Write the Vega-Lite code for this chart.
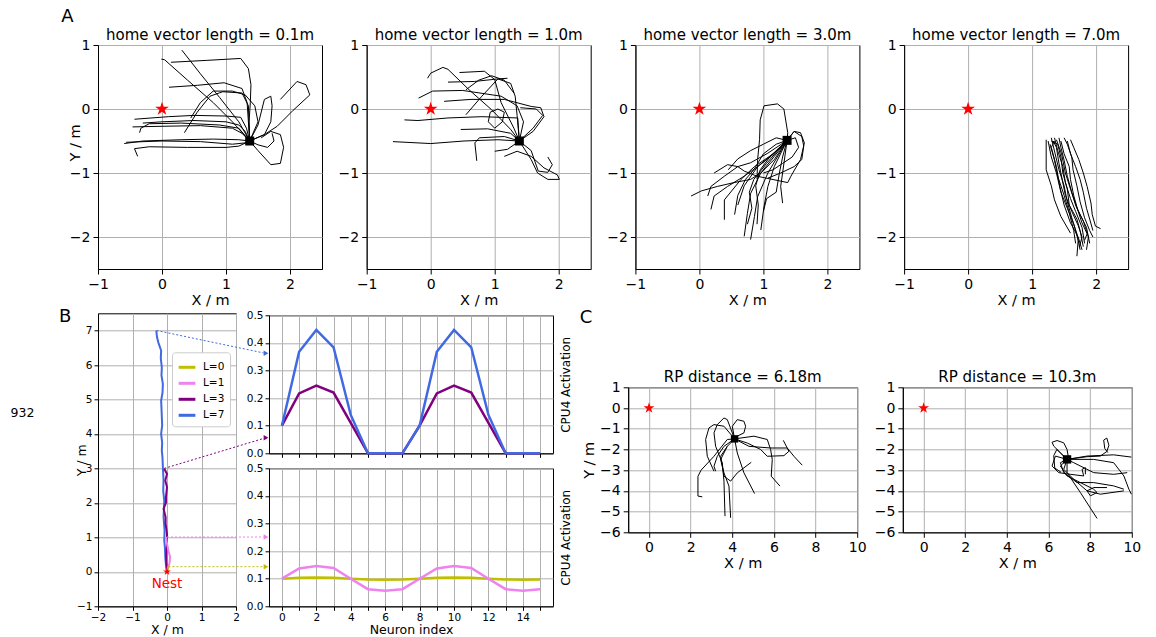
{
"$schema":"https://vega.github.io/schema/vega-lite/v6.json",
"background":"white",
"padding":{"left":10,"top":7,"right":5,"bottom":5},
"config":{
 "font":"DejaVu Sans",
 "view":{"stroke":"black","strokeWidth":1},
 "axis":{"labelFont":"DejaVu Sans","titleFont":"DejaVu Sans","titleFontWeight":"normal","domainColor":"black","tickColor":"black","labelColor":"black","titleColor":"black","gridColor":"#b0b0b0","gridWidth":1,"gridOpacity":1,"labelFlush":false,"labelOverlap":false,"grid":true},
 "title":{"font":"DejaVu Sans","fontSize":15,"fontWeight":"normal","color":"black","offset":-4.5},
 "legend":{"labelFont":"DejaVu Sans"}
},
"datasets":{
"A1":[
{"t":1,"i":0,"x":0.31,"y":0.92},{"t":1,"i":1,"x":0.6,"y":0.55},{"t":1,"i":2,"x":0.9,"y":0.18},{"t":1,"i":3,"x":1.2,"y":-0.2},{"t":1,"i":4,"x":1.37,"y":-0.5},
{"t":2,"i":0,"x":-0.01,"y":0.78},{"t":2,"i":1,"x":0.04,"y":0.77},{"t":2,"i":2,"x":0.4,"y":0.45},{"t":2,"i":3,"x":0.8,"y":0.1},{"t":2,"i":4,"x":1.1,"y":-0.2},{"t":2,"i":5,"x":1.37,"y":-0.5},
{"t":3,"i":0,"x":0.14,"y":0.73},{"t":3,"i":1,"x":0.7,"y":0.76},{"t":3,"i":2,"x":1.23,"y":0.79},{"t":3,"i":3,"x":1.35,"y":0.63},{"t":3,"i":4,"x":1.39,"y":0.38},{"t":3,"i":5,"x":1.38,"y":0.1},{"t":3,"i":6,"x":1.36,"y":-0.2},{"t":3,"i":7,"x":1.37,"y":-0.5},
{"t":4,"i":0,"x":1.85,"y":0.15},{"t":4,"i":1,"x":2.11,"y":0.43},{"t":4,"i":2,"x":2.25,"y":0.38},{"t":4,"i":3,"x":2.31,"y":0.22},{"t":4,"i":4,"x":2.05,"y":-0.02},{"t":4,"i":5,"x":1.8,"y":-0.27},{"t":4,"i":6,"x":1.6,"y":-0.4},{"t":4,"i":7,"x":1.37,"y":-0.5},
{"t":5,"i":0,"x":0.11,"y":0.34},{"t":5,"i":1,"x":0.55,"y":0.37},{"t":5,"i":2,"x":0.97,"y":0.41},{"t":5,"i":3,"x":1.25,"y":0.32},{"t":5,"i":4,"x":1.33,"y":0.1},{"t":5,"i":5,"x":1.35,"y":-0.2},{"t":5,"i":6,"x":1.37,"y":-0.5},
{"t":6,"i":0,"x":0.45,"y":-0.14},{"t":6,"i":1,"x":0.6,"y":0.1},{"t":6,"i":2,"x":0.8,"y":0.28},{"t":6,"i":3,"x":1.1,"y":0.28},{"t":6,"i":4,"x":1.3,"y":0.22},{"t":6,"i":5,"x":1.45,"y":0.05},{"t":6,"i":6,"x":1.5,"y":-0.2},{"t":6,"i":7,"x":1.37,"y":-0.5},
{"t":7,"i":0,"x":0.35,"y":-0.37},{"t":7,"i":1,"x":0.55,"y":-0.05},{"t":7,"i":2,"x":0.75,"y":0.2},{"t":7,"i":3,"x":0.95,"y":0.27},{"t":7,"i":4,"x":1.25,"y":0.25},{"t":7,"i":5,"x":1.35,"y":0.05},{"t":7,"i":6,"x":1.37,"y":-0.5},
{"t":8,"i":0,"x":1.37,"y":-0.5},{"t":8,"i":1,"x":1.5,"y":-0.25},{"t":8,"i":2,"x":1.6,"y":0.15},{"t":8,"i":3,"x":1.7,"y":0.2},{"t":8,"i":4,"x":1.72,"y":0.05},{"t":8,"i":5,"x":1.7,"y":-0.2},{"t":8,"i":6,"x":1.6,"y":-0.4},{"t":8,"i":7,"x":1.37,"y":-0.5},
{"t":9,"i":0,"x":1.37,"y":-0.5},{"t":9,"i":1,"x":1.5,"y":-0.65},{"t":9,"i":2,"x":1.7,"y":-0.87},{"t":9,"i":3,"x":1.85,"y":-0.85},{"t":9,"i":4,"x":1.9,"y":-0.6},{"t":9,"i":5,"x":1.85,"y":-0.4},{"t":9,"i":6,"x":1.7,"y":-0.35},{"t":9,"i":7,"x":1.55,"y":-0.45},
{"t":10,"i":0,"x":-0.43,"y":-0.16},{"t":10,"i":1,"x":0.1,"y":-0.12},{"t":10,"i":2,"x":0.5,"y":-0.1},{"t":10,"i":3,"x":1.0,"y":-0.11},{"t":10,"i":4,"x":1.23,"y":-0.13},{"t":10,"i":5,"x":1.32,"y":-0.3},{"t":10,"i":6,"x":1.37,"y":-0.5},
{"t":11,"i":0,"x":-0.3,"y":-0.22},{"t":11,"i":1,"x":0.0,"y":-0.2},{"t":11,"i":2,"x":0.5,"y":-0.18},{"t":11,"i":3,"x":1.0,"y":-0.2},{"t":11,"i":4,"x":1.2,"y":-0.25},{"t":11,"i":5,"x":1.3,"y":-0.35},{"t":11,"i":6,"x":1.37,"y":-0.5},
{"t":12,"i":0,"x":-0.46,"y":-0.28},{"t":12,"i":1,"x":0.0,"y":-0.27},{"t":12,"i":2,"x":0.6,"y":-0.26},{"t":12,"i":3,"x":1.1,"y":-0.3},{"t":12,"i":4,"x":1.25,"y":-0.38},{"t":12,"i":5,"x":1.37,"y":-0.5},
{"t":13,"i":0,"x":-0.35,"y":-0.37},{"t":13,"i":1,"x":-0.33,"y":-0.3},{"t":13,"i":2,"x":-0.2,"y":-0.23},{"t":13,"i":3,"x":0.3,"y":-0.22},{"t":13,"i":4,"x":0.9,"y":-0.25},{"t":13,"i":5,"x":1.2,"y":-0.3},{"t":13,"i":6,"x":1.37,"y":-0.5},
{"t":14,"i":0,"x":-0.59,"y":-0.54},{"t":14,"i":1,"x":-0.3,"y":-0.5},{"t":14,"i":2,"x":0.3,"y":-0.48},{"t":14,"i":3,"x":0.8,"y":-0.47},{"t":14,"i":4,"x":1.2,"y":-0.48},{"t":14,"i":5,"x":1.37,"y":-0.5},
{"t":15,"i":0,"x":-0.56,"y":-0.52},{"t":15,"i":1,"x":0.0,"y":-0.5},{"t":15,"i":2,"x":0.6,"y":-0.51},{"t":15,"i":3,"x":1.1,"y":-0.55},{"t":15,"i":4,"x":1.3,"y":-0.53},{"t":15,"i":5,"x":1.37,"y":-0.5},
{"t":16,"i":0,"x":-0.38,"y":-0.74},{"t":16,"i":1,"x":-0.43,"y":-0.62},{"t":16,"i":2,"x":-0.2,"y":-0.59},{"t":16,"i":3,"x":0.4,"y":-0.6},{"t":16,"i":4,"x":1.0,"y":-0.6},{"t":16,"i":5,"x":1.2,"y":-0.58},{"t":16,"i":6,"x":1.37,"y":-0.5},
{"t":17,"i":0,"x":1.37,"y":-0.5},{"t":17,"i":1,"x":1.5,"y":-0.56},{"t":17,"i":2,"x":1.65,"y":-0.6},{"t":17,"i":3,"x":1.75,"y":-0.5},{"t":17,"i":4,"x":1.72,"y":-0.38}
],
"A2":[
{"t":1,"i":0,"x":-0.05,"y":0.48},{"t":1,"i":1,"x":0.0,"y":0.56},{"t":1,"i":2,"x":0.19,"y":0.65},{"t":1,"i":3,"x":0.27,"y":0.62},{"t":1,"i":4,"x":0.6,"y":0.3},{"t":1,"i":5,"x":0.95,"y":-0.01},{"t":1,"i":6,"x":1.25,"y":-0.32},{"t":1,"i":7,"x":1.385,"y":-0.5},
{"t":2,"i":0,"x":0.45,"y":0.57},{"t":2,"i":1,"x":0.84,"y":0.59},{"t":2,"i":2,"x":1.0,"y":0.46},{"t":2,"i":3,"x":1.1,"y":0.1},{"t":2,"i":4,"x":1.3,"y":-0.3},{"t":2,"i":5,"x":1.385,"y":-0.5},
{"t":3,"i":0,"x":0.27,"y":0.42},{"t":3,"i":1,"x":0.68,"y":0.43},{"t":3,"i":2,"x":1.05,"y":0.47},{"t":3,"i":3,"x":1.25,"y":0.4},{"t":3,"i":4,"x":1.32,"y":0.2},{"t":3,"i":5,"x":1.35,"y":-0.1},{"t":3,"i":6,"x":1.385,"y":-0.5},
{"t":4,"i":0,"x":-0.19,"y":0.17},{"t":4,"i":1,"x":0.03,"y":0.28},{"t":4,"i":2,"x":0.5,"y":0.29},{"t":4,"i":3,"x":1.1,"y":0.2},{"t":4,"i":4,"x":1.35,"y":0.05},{"t":4,"i":5,"x":1.45,"y":-0.2},{"t":4,"i":6,"x":1.385,"y":-0.5},
{"t":5,"i":0,"x":0.21,"y":0.12},{"t":5,"i":1,"x":0.63,"y":0.15},{"t":5,"i":2,"x":1.15,"y":0.15},{"t":5,"i":3,"x":1.57,"y":0.04},{"t":5,"i":4,"x":1.72,"y":0.02},{"t":5,"i":5,"x":1.77,"y":-0.12},{"t":5,"i":6,"x":1.6,"y":-0.35},{"t":5,"i":7,"x":1.385,"y":-0.5},
{"t":6,"i":0,"x":-0.41,"y":-0.17},{"t":6,"i":1,"x":-0.2,"y":-0.18},{"t":6,"i":2,"x":0.27,"y":-0.14},{"t":6,"i":3,"x":0.8,"y":-0.12},{"t":6,"i":4,"x":1.36,"y":-0.14},{"t":6,"i":5,"x":1.385,"y":-0.5},
{"t":7,"i":0,"x":-0.59,"y":-0.51},{"t":7,"i":1,"x":0.0,"y":-0.54},{"t":7,"i":2,"x":0.52,"y":-0.5},{"t":7,"i":3,"x":1.05,"y":-0.48},{"t":7,"i":4,"x":1.385,"y":-0.5},
{"t":8,"i":0,"x":0.47,"y":-0.32},{"t":8,"i":1,"x":0.89,"y":-0.31},{"t":8,"i":2,"x":1.25,"y":-0.38},{"t":8,"i":3,"x":1.385,"y":-0.5},
{"t":9,"i":0,"x":0.72,"y":-0.81},{"t":9,"i":1,"x":0.69,"y":-0.53},{"t":9,"i":2,"x":0.76,"y":-0.45},{"t":9,"i":3,"x":1.15,"y":-0.43},{"t":9,"i":4,"x":1.385,"y":-0.5},
{"t":10,"i":0,"x":0.55,"y":-0.09},{"t":10,"i":1,"x":0.8,"y":0.2},{"t":10,"i":2,"x":1.05,"y":0.47},{"t":10,"i":3,"x":1.2,"y":0.48},
{"t":11,"i":0,"x":1.385,"y":-0.5},{"t":11,"i":1,"x":1.57,"y":-0.65},{"t":11,"i":2,"x":1.68,"y":-0.97},{"t":11,"i":3,"x":1.83,"y":-0.99},{"t":11,"i":4,"x":1.9,"y":-0.87},{"t":11,"i":5,"x":1.83,"y":-0.75},
{"t":12,"i":0,"x":1.15,"y":-0.74},{"t":12,"i":1,"x":1.35,"y":-0.66},{"t":12,"i":2,"x":1.57,"y":-0.74},{"t":12,"i":3,"x":1.77,"y":-0.92},{"t":12,"i":4,"x":1.98,"y":-1.03},{"t":12,"i":5,"x":2.01,"y":-1.1},{"t":12,"i":6,"x":1.83,"y":-1.1},{"t":12,"i":7,"x":1.67,"y":-1.0},{"t":12,"i":8,"x":1.57,"y":-0.79},{"t":12,"i":9,"x":1.385,"y":-0.5},
{"t":13,"i":0,"x":1.0,"y":-0.66},{"t":13,"i":1,"x":1.2,"y":-0.63},{"t":13,"i":2,"x":1.385,"y":-0.5},
{"t":14,"i":0,"x":0.9,"y":-0.2},{"t":14,"i":1,"x":0.93,"y":-0.05},{"t":14,"i":2,"x":1.05,"y":0.0},{"t":14,"i":3,"x":1.15,"y":-0.05},{"t":14,"i":4,"x":1.12,"y":-0.2},{"t":14,"i":5,"x":1.0,"y":-0.3},{"t":14,"i":6,"x":0.9,"y":-0.2},
{"t":15,"i":0,"x":1.385,"y":-0.5},{"t":15,"i":1,"x":1.6,"y":-0.3},{"t":15,"i":2,"x":1.75,"y":-0.1},{"t":15,"i":3,"x":1.65,"y":0.0},{"t":15,"i":4,"x":1.4,"y":0.02},
{"t":16,"i":0,"x":0.55,"y":0.3},{"t":16,"i":1,"x":0.75,"y":0.45},{"t":16,"i":2,"x":0.95,"y":0.52},{"t":16,"i":3,"x":1.15,"y":0.45},{"t":16,"i":4,"x":1.3,"y":0.25}
],
"A3":[
{"t":1,"i":0,"x":-0.13,"y":-1.36},{"t":1,"i":1,"x":0.03,"y":-1.28},{"t":1,"i":2,"x":0.28,"y":-1.21},{"t":1,"i":3,"x":0.54,"y":-1.15},{"t":1,"i":4,"x":0.8,"y":-1.1},{"t":1,"i":5,"x":0.96,"y":-1.0},{"t":1,"i":6,"x":1.17,"y":-0.79},{"t":1,"i":7,"x":1.37,"y":-0.49},
{"t":2,"i":0,"x":0.13,"y":-1.36},{"t":2,"i":1,"x":0.18,"y":-1.21},{"t":2,"i":2,"x":0.39,"y":-1.05},{"t":2,"i":3,"x":0.6,"y":-0.9},{"t":2,"i":4,"x":0.8,"y":-0.84},{"t":2,"i":5,"x":1.07,"y":-0.69},{"t":2,"i":6,"x":1.37,"y":-0.49},
{"t":3,"i":0,"x":0.18,"y":-1.57},{"t":3,"i":1,"x":0.23,"y":-1.36},{"t":3,"i":2,"x":0.44,"y":-1.21},{"t":3,"i":3,"x":0.7,"y":-1.05},{"t":3,"i":4,"x":0.91,"y":-0.9},{"t":3,"i":5,"x":1.12,"y":-0.74},{"t":3,"i":6,"x":1.37,"y":-0.49},
{"t":4,"i":0,"x":0.39,"y":-1.73},{"t":4,"i":1,"x":0.39,"y":-1.42},{"t":4,"i":2,"x":0.65,"y":-1.1},{"t":4,"i":3,"x":0.86,"y":-0.9},{"t":4,"i":4,"x":1.17,"y":-0.69},{"t":4,"i":5,"x":1.37,"y":-0.49},
{"t":5,"i":0,"x":0.6,"y":-1.5},{"t":5,"i":1,"x":0.7,"y":-1.2},{"t":5,"i":2,"x":0.91,"y":-0.9},{"t":5,"i":3,"x":1.22,"y":-0.64},{"t":5,"i":4,"x":1.37,"y":-0.49},
{"t":6,"i":0,"x":0.7,"y":-1.99},{"t":6,"i":1,"x":0.75,"y":-1.63},{"t":6,"i":2,"x":0.8,"y":-1.32},{"t":6,"i":3,"x":0.96,"y":-1.0},{"t":6,"i":4,"x":1.17,"y":-0.74},{"t":6,"i":5,"x":1.37,"y":-0.49},
{"t":7,"i":0,"x":0.8,"y":-2.04},{"t":7,"i":1,"x":0.86,"y":-1.68},{"t":7,"i":2,"x":0.91,"y":-1.37},{"t":7,"i":3,"x":1.07,"y":-1.0},{"t":7,"i":4,"x":1.37,"y":-0.49},
{"t":8,"i":0,"x":0.96,"y":-1.89},{"t":8,"i":1,"x":1.01,"y":-1.52},{"t":8,"i":2,"x":1.07,"y":-1.21},{"t":8,"i":3,"x":1.17,"y":-0.9},{"t":8,"i":4,"x":1.37,"y":-0.49},
{"t":9,"i":0,"x":1.3,"y":-1.47},{"t":9,"i":1,"x":1.27,"y":-1.21},{"t":9,"i":2,"x":1.3,"y":-1.0},{"t":9,"i":3,"x":1.37,"y":-0.49},
{"t":10,"i":0,"x":0.23,"y":-1.0},{"t":10,"i":1,"x":0.44,"y":-0.87},{"t":10,"i":2,"x":0.6,"y":-0.9},{"t":10,"i":3,"x":0.7,"y":-0.97},{"t":10,"i":4,"x":0.9,"y":-1.05},{"t":10,"i":5,"x":1.38,"y":-1.15},{"t":10,"i":6,"x":1.43,"y":-1.05},{"t":10,"i":7,"x":1.58,"y":-0.79},{"t":10,"i":8,"x":1.64,"y":-0.53},{"t":10,"i":9,"x":1.58,"y":-0.37},{"t":10,"i":10,"x":1.48,"y":-0.35},{"t":10,"i":11,"x":1.37,"y":-0.49},
{"t":11,"i":0,"x":1.37,"y":-0.49},{"t":11,"i":1,"x":1.38,"y":-0.37},{"t":11,"i":2,"x":1.32,"y":0.0},{"t":11,"i":3,"x":1.22,"y":0.08},{"t":11,"i":4,"x":1.01,"y":0.05},{"t":11,"i":5,"x":0.95,"y":-0.17},{"t":11,"i":6,"x":0.94,"y":-0.48},{"t":11,"i":7,"x":0.91,"y":-0.79},{"t":11,"i":8,"x":0.9,"y":-1.1},
{"t":12,"i":0,"x":1.37,"y":-0.49},{"t":12,"i":1,"x":1.48,"y":-0.35},{"t":12,"i":2,"x":1.6,"y":-0.43},{"t":12,"i":3,"x":1.63,"y":-0.58},{"t":12,"i":4,"x":1.6,"y":-0.79},{"t":12,"i":5,"x":1.48,"y":-0.9},{"t":12,"i":6,"x":1.27,"y":-1.0},{"t":12,"i":7,"x":1.07,"y":-1.08},
{"t":13,"i":0,"x":0.9,"y":-1.8},{"t":13,"i":1,"x":0.92,"y":-1.5},{"t":13,"i":2,"x":0.88,"y":-1.2},{"t":13,"i":3,"x":0.95,"y":-0.95},{"t":13,"i":4,"x":1.1,"y":-0.75},{"t":13,"i":5,"x":1.25,"y":-0.6},{"t":13,"i":6,"x":1.37,"y":-0.49},
{"t":14,"i":0,"x":0.55,"y":-1.65},{"t":14,"i":1,"x":0.6,"y":-1.35},{"t":14,"i":2,"x":0.72,"y":-1.1},{"t":14,"i":3,"x":0.85,"y":-0.95},{"t":14,"i":4,"x":1.0,"y":-0.7},{"t":14,"i":5,"x":1.2,"y":-0.55},{"t":14,"i":6,"x":1.37,"y":-0.49},
{"t":15,"i":0,"x":1.0,"y":-1.6},{"t":15,"i":1,"x":1.05,"y":-1.4},{"t":15,"i":2,"x":1.2,"y":-1.3},{"t":15,"i":3,"x":1.25,"y":-1.0},{"t":15,"i":4,"x":1.3,"y":-0.75},{"t":15,"i":5,"x":1.37,"y":-0.49},
{"t":16,"i":0,"x":1.37,"y":-0.49},{"t":16,"i":1,"x":1.5,"y":-0.45},{"t":16,"i":2,"x":1.55,"y":-0.6},{"t":16,"i":3,"x":1.45,"y":-0.75},{"t":16,"i":4,"x":1.3,"y":-0.85},{"t":16,"i":5,"x":1.15,"y":-0.95},{"t":16,"i":6,"x":1.0,"y":-1.0},
{"t":17,"i":0,"x":0.45,"y":-0.95},{"t":17,"i":1,"x":0.6,"y":-0.78},{"t":17,"i":2,"x":0.8,"y":-0.65},{"t":17,"i":3,"x":1.0,"y":-0.55},{"t":17,"i":4,"x":1.2,"y":-0.45},{"t":17,"i":5,"x":1.37,"y":-0.49},
{"t":18,"i":0,"x":0.75,"y":-1.8},{"t":18,"i":1,"x":0.82,"y":-1.55},{"t":18,"i":2,"x":0.78,"y":-1.3},{"t":18,"i":3,"x":0.85,"y":-1.1},{"t":18,"i":4,"x":1.05,"y":-0.85},{"t":18,"i":5,"x":1.25,"y":-0.62},{"t":18,"i":6,"x":1.37,"y":-0.49}
],
"A4":[
{"t":1,"i":0,"x":1.3,"y":-0.45},{"t":1,"i":1,"x":1.36,"y":-0.7},{"t":1,"i":2,"x":1.42,"y":-0.95},{"t":1,"i":3,"x":1.5,"y":-1.2},{"t":1,"i":4,"x":1.55,"y":-1.45},{"t":1,"i":5,"x":1.62,"y":-1.7},{"t":1,"i":6,"x":1.7,"y":-1.95},{"t":1,"i":7,"x":1.75,"y":-2.2},
{"t":2,"i":0,"x":1.35,"y":-0.45},{"t":2,"i":1,"x":1.4,"y":-0.65},{"t":2,"i":2,"x":1.48,"y":-0.9},{"t":2,"i":3,"x":1.52,"y":-1.15},{"t":2,"i":4,"x":1.6,"y":-1.4},{"t":2,"i":5,"x":1.68,"y":-1.6},{"t":2,"i":6,"x":1.78,"y":-1.85},{"t":2,"i":7,"x":1.82,"y":-2.1},
{"t":3,"i":0,"x":1.25,"y":-0.5},{"t":3,"i":1,"x":1.3,"y":-0.75},{"t":3,"i":2,"x":1.38,"y":-1.0},{"t":3,"i":3,"x":1.45,"y":-1.3},{"t":3,"i":4,"x":1.55,"y":-1.55},{"t":3,"i":5,"x":1.65,"y":-1.8},{"t":3,"i":6,"x":1.72,"y":-2.05},{"t":3,"i":7,"x":1.7,"y":-2.3},
{"t":4,"i":0,"x":1.22,"y":-0.48},{"t":4,"i":1,"x":1.22,"y":-0.95},{"t":4,"i":2,"x":1.3,"y":-1.2},{"t":4,"i":3,"x":1.35,"y":-1.42},{"t":4,"i":4,"x":1.45,"y":-1.68},{"t":4,"i":5,"x":1.6,"y":-1.94},
{"t":5,"i":0,"x":1.6,"y":-0.48},{"t":5,"i":1,"x":1.65,"y":-0.6},{"t":5,"i":2,"x":1.73,"y":-0.79},{"t":5,"i":3,"x":1.8,"y":-1.0},{"t":5,"i":4,"x":1.86,"y":-1.21},{"t":5,"i":5,"x":1.92,"y":-1.47},{"t":5,"i":6,"x":1.94,"y":-1.65},{"t":5,"i":7,"x":1.99,"y":-1.83},{"t":5,"i":8,"x":2.07,"y":-1.87},
{"t":6,"i":0,"x":1.42,"y":-0.45},{"t":6,"i":1,"x":1.45,"y":-0.6},{"t":6,"i":2,"x":1.5,"y":-0.8},{"t":6,"i":3,"x":1.55,"y":-1.05},{"t":6,"i":4,"x":1.62,"y":-1.3},{"t":6,"i":5,"x":1.7,"y":-1.55},{"t":6,"i":6,"x":1.8,"y":-1.75},{"t":6,"i":7,"x":1.88,"y":-2.0},{"t":6,"i":8,"x":1.85,"y":-2.2},
{"t":7,"i":0,"x":1.3,"y":-0.5},{"t":7,"i":1,"x":1.4,"y":-0.55},{"t":7,"i":2,"x":1.45,"y":-0.75},{"t":7,"i":3,"x":1.48,"y":-1.0},{"t":7,"i":4,"x":1.55,"y":-1.25},{"t":7,"i":5,"x":1.58,"y":-1.5},{"t":7,"i":6,"x":1.7,"y":-1.72},{"t":7,"i":7,"x":1.75,"y":-1.9},{"t":7,"i":8,"x":1.8,"y":-2.15},
{"t":8,"i":0,"x":1.5,"y":-0.45},{"t":8,"i":1,"x":1.55,"y":-0.55},{"t":8,"i":2,"x":1.62,"y":-0.75},{"t":8,"i":3,"x":1.64,"y":-0.95},{"t":8,"i":4,"x":1.7,"y":-1.2},{"t":8,"i":5,"x":1.75,"y":-1.45},{"t":8,"i":6,"x":1.82,"y":-1.7},{"t":8,"i":7,"x":1.9,"y":-1.9},{"t":8,"i":8,"x":1.95,"y":-2.0},
{"t":9,"i":0,"x":1.28,"y":-0.55},{"t":9,"i":1,"x":1.35,"y":-0.8},{"t":9,"i":2,"x":1.4,"y":-1.05},{"t":9,"i":3,"x":1.5,"y":-1.35},{"t":9,"i":4,"x":1.58,"y":-1.62},{"t":9,"i":5,"x":1.65,"y":-1.9},{"t":9,"i":6,"x":1.68,"y":-2.1},
{"t":10,"i":0,"x":1.38,"y":-0.48},{"t":10,"i":1,"x":1.46,"y":-0.7},{"t":10,"i":2,"x":1.52,"y":-1.0},{"t":10,"i":3,"x":1.6,"y":-1.25},{"t":10,"i":4,"x":1.68,"y":-1.5},{"t":10,"i":5,"x":1.75,"y":-1.65},{"t":10,"i":6,"x":1.85,"y":-1.85},{"t":10,"i":7,"x":1.9,"y":-2.1},
{"t":11,"i":0,"x":1.33,"y":-0.5},{"t":11,"i":1,"x":1.38,"y":-0.6},{"t":11,"i":2,"x":1.42,"y":-0.85},{"t":11,"i":3,"x":1.47,"y":-1.1},{"t":11,"i":4,"x":1.52,"y":-1.35},{"t":11,"i":5,"x":1.62,"y":-1.6},{"t":11,"i":6,"x":1.72,"y":-1.82},{"t":11,"i":7,"x":1.78,"y":-2.0},{"t":11,"i":8,"x":1.74,"y":-2.15},
{"t":12,"i":0,"x":1.45,"y":-0.5},{"t":12,"i":1,"x":1.5,"y":-0.7},{"t":12,"i":2,"x":1.58,"y":-0.9},{"t":12,"i":3,"x":1.6,"y":-1.1},{"t":12,"i":4,"x":1.65,"y":-1.35},{"t":12,"i":5,"x":1.72,"y":-1.6},{"t":12,"i":6,"x":1.78,"y":-1.78},{"t":12,"i":7,"x":1.86,"y":-1.95},{"t":12,"i":8,"x":1.82,"y":-2.05},
{"t":13,"i":0,"x":1.35,"y":-0.5},{"t":13,"i":1,"x":1.3,"y":-0.6},{"t":13,"i":2,"x":1.38,"y":-0.9},{"t":13,"i":3,"x":1.43,"y":-1.2},{"t":13,"i":4,"x":1.5,"y":-1.5},{"t":13,"i":5,"x":1.6,"y":-1.78},{"t":13,"i":6,"x":1.72,"y":-2.0},{"t":13,"i":7,"x":1.78,"y":-2.2},
{"t":14,"i":0,"x":1.55,"y":-0.5},{"t":14,"i":1,"x":1.6,"y":-0.7},{"t":14,"i":2,"x":1.68,"y":-0.9},{"t":14,"i":3,"x":1.75,"y":-1.1},{"t":14,"i":4,"x":1.8,"y":-1.3},{"t":14,"i":5,"x":1.85,"y":-1.55},{"t":14,"i":6,"x":1.9,"y":-1.72},{"t":14,"i":7,"x":1.95,"y":-1.9}
],
"C1":[
{"t":1,"i":0,"x":4.11,"y":-1.49},{"t":1,"i":1,"x":3.76,"y":-1.52},{"t":1,"i":2,"x":3.12,"y":-2.33},{"t":1,"i":3,"x":2.5,"y":-3.0},{"t":1,"i":4,"x":2.35,"y":-3.3},{"t":1,"i":5,"x":2.35,"y":-4.25},{"t":1,"i":6,"x":2.56,"y":-4.29},
{"t":2,"i":0,"x":4.11,"y":-1.49},{"t":2,"i":1,"x":3.6,"y":-0.88},{"t":2,"i":2,"x":3.12,"y":-0.8},{"t":2,"i":3,"x":2.88,"y":-0.96},{"t":2,"i":4,"x":2.72,"y":-1.52},{"t":2,"i":5,"x":2.8,"y":-2.33},{"t":2,"i":6,"x":3.12,"y":-3.05},
{"t":3,"i":0,"x":4.11,"y":-1.49},{"t":3,"i":1,"x":3.76,"y":-0.56},{"t":3,"i":2,"x":3.6,"y":-0.48},{"t":3,"i":3,"x":3.28,"y":-0.8},{"t":3,"i":4,"x":3.12,"y":-1.2},{"t":3,"i":5,"x":3.2,"y":-1.85},{"t":3,"i":6,"x":3.52,"y":-2.65},{"t":3,"i":7,"x":3.6,"y":-3.53},{"t":3,"i":8,"x":3.65,"y":-5.22},
{"t":4,"i":0,"x":4.11,"y":-1.49},{"t":4,"i":1,"x":4.0,"y":-0.88},{"t":4,"i":2,"x":4.24,"y":-0.56},{"t":4,"i":3,"x":4.56,"y":-0.64},{"t":4,"i":4,"x":4.64,"y":-0.88},{"t":4,"i":5,"x":4.56,"y":-1.2},{"t":4,"i":6,"x":4.24,"y":-1.36},{"t":4,"i":7,"x":4.11,"y":-1.49},
{"t":5,"i":0,"x":4.11,"y":-1.49},{"t":5,"i":1,"x":5.04,"y":-1.36},{"t":5,"i":2,"x":5.68,"y":-1.52},{"t":5,"i":3,"x":5.84,"y":-2.0},{"t":5,"i":4,"x":5.92,"y":-2.49},{"t":5,"i":5,"x":5.87,"y":-3.29},{"t":5,"i":6,"x":6.29,"y":-3.77},
{"t":6,"i":0,"x":4.11,"y":-1.49},{"t":6,"i":1,"x":4.72,"y":-1.69},{"t":6,"i":2,"x":5.36,"y":-2.0},{"t":6,"i":3,"x":5.68,"y":-2.33},{"t":6,"i":4,"x":6.48,"y":-2.3},{"t":6,"i":5,"x":6.72,"y":-2.09},{"t":6,"i":6,"x":6.45,"y":-1.56},
{"t":7,"i":0,"x":4.11,"y":-1.49},{"t":7,"i":1,"x":4.8,"y":-1.85},{"t":7,"i":2,"x":5.84,"y":-1.93},{"t":7,"i":3,"x":6.64,"y":-1.93},{"t":7,"i":4,"x":6.96,"y":-2.33},{"t":7,"i":5,"x":7.36,"y":-2.76},
{"t":8,"i":0,"x":4.11,"y":-1.49},{"t":8,"i":1,"x":3.76,"y":-1.85},{"t":8,"i":2,"x":3.44,"y":-2.49},{"t":8,"i":3,"x":3.6,"y":-3.13},{"t":8,"i":4,"x":3.84,"y":-3.77},{"t":8,"i":5,"x":3.92,"y":-5.3},
{"t":9,"i":0,"x":4.11,"y":-1.49},{"t":9,"i":1,"x":4.24,"y":-2.17},{"t":9,"i":2,"x":4.56,"y":-3.13},{"t":9,"i":3,"x":5.07,"y":-4.13},
{"t":10,"i":0,"x":4.91,"y":-2.62},{"t":10,"i":1,"x":4.24,"y":-3.13},{"t":10,"i":2,"x":3.92,"y":-3.53},{"t":10,"i":3,"x":3.6,"y":-3.29},{"t":10,"i":4,"x":3.44,"y":-2.33},{"t":10,"i":5,"x":3.76,"y":-1.85},
{"t":11,"i":0,"x":4.11,"y":-1.49},{"t":11,"i":1,"x":3.6,"y":-1.85},{"t":11,"i":2,"x":3.28,"y":-2.33},{"t":11,"i":3,"x":3.12,"y":-2.81},{"t":11,"i":4,"x":3.2,"y":-3.05}
],
"C2":[
{"t":1,"i":0,"x":6.89,"y":-2.48},{"t":1,"i":1,"x":7.85,"y":-2.35},{"t":1,"i":2,"x":8.49,"y":-2.32},{"t":1,"i":3,"x":8.8,"y":-2.1},{"t":1,"i":4,"x":8.9,"y":-1.8},{"t":1,"i":5,"x":8.8,"y":-1.45},{"t":1,"i":6,"x":8.65,"y":-1.55},{"t":1,"i":7,"x":8.7,"y":-1.95},{"t":1,"i":8,"x":8.85,"y":-2.15},
{"t":2,"i":0,"x":6.89,"y":-2.48},{"t":2,"i":1,"x":7.85,"y":-2.32},{"t":2,"i":2,"x":9.13,"y":-2.26},{"t":2,"i":3,"x":9.98,"y":-2.37},
{"t":3,"i":0,"x":6.89,"y":-2.48},{"t":3,"i":1,"x":8.17,"y":-2.48},{"t":3,"i":2,"x":9.13,"y":-2.64},{"t":3,"i":3,"x":9.62,"y":-3.28},{"t":3,"i":4,"x":9.86,"y":-3.92},{"t":3,"i":5,"x":9.98,"y":-4.16},
{"t":4,"i":0,"x":6.89,"y":-2.48},{"t":4,"i":1,"x":6.57,"y":-2.8},{"t":4,"i":2,"x":6.89,"y":-3.28},{"t":4,"i":3,"x":7.85,"y":-3.76},{"t":4,"i":4,"x":8.17,"y":-3.92},{"t":4,"i":5,"x":8.33,"y":-4.08},{"t":4,"i":6,"x":8.01,"y":-4.24},{"t":4,"i":7,"x":7.85,"y":-4.0},{"t":4,"i":8,"x":8.17,"y":-3.84},{"t":4,"i":9,"x":8.81,"y":-3.84},
{"t":5,"i":0,"x":6.89,"y":-2.48},{"t":5,"i":1,"x":6.73,"y":-2.96},{"t":5,"i":2,"x":7.21,"y":-3.44},{"t":5,"i":3,"x":7.85,"y":-4.0},{"t":5,"i":4,"x":8.49,"y":-4.16},{"t":5,"i":5,"x":9.62,"y":-4.0},
{"t":6,"i":0,"x":6.89,"y":-2.48},{"t":6,"i":1,"x":6.89,"y":-3.12},{"t":6,"i":2,"x":7.53,"y":-4.08},{"t":6,"i":3,"x":8.33,"y":-5.33},
{"t":7,"i":0,"x":6.89,"y":-2.48},{"t":7,"i":1,"x":6.57,"y":-2.16},{"t":7,"i":2,"x":6.25,"y":-1.84},{"t":7,"i":3,"x":6.17,"y":-1.65},{"t":7,"i":4,"x":6.41,"y":-1.57},{"t":7,"i":5,"x":6.73,"y":-1.68},{"t":7,"i":6,"x":6.89,"y":-2.0},{"t":7,"i":7,"x":6.97,"y":-2.48},
{"t":8,"i":0,"x":6.89,"y":-2.48},{"t":8,"i":1,"x":6.33,"y":-2.32},{"t":8,"i":2,"x":6.17,"y":-2.8},{"t":8,"i":3,"x":6.49,"y":-3.12},{"t":8,"i":4,"x":7.05,"y":-3.2},{"t":8,"i":5,"x":7.69,"y":-3.28},{"t":8,"i":6,"x":7.61,"y":-2.96},{"t":8,"i":7,"x":7.77,"y":-2.88},{"t":8,"i":8,"x":7.77,"y":-3.2},
{"t":9,"i":0,"x":6.89,"y":-2.48},{"t":9,"i":1,"x":6.57,"y":-2.64},{"t":9,"i":2,"x":6.73,"y":-3.12},{"t":9,"i":3,"x":7.37,"y":-3.6},{"t":9,"i":4,"x":8.17,"y":-3.6},{"t":9,"i":5,"x":9.13,"y":-3.76},{"t":9,"i":6,"x":9.62,"y":-3.92},
{"t":10,"i":0,"x":6.89,"y":-2.48},{"t":10,"i":1,"x":7.21,"y":-2.64},{"t":10,"i":2,"x":8.17,"y":-3.12},{"t":10,"i":3,"x":9.13,"y":-3.2},{"t":10,"i":4,"x":9.78,"y":-3.12},
{"t":11,"i":0,"x":6.89,"y":-2.48},{"t":11,"i":1,"x":6.4,"y":-2.0},{"t":11,"i":2,"x":6.25,"y":-2.3},{"t":11,"i":3,"x":6.3,"y":-2.9},{"t":11,"i":4,"x":6.6,"y":-3.1}
],
"btraj":[
{"L":"L=7","i":0,"x":0,"y":0},{"L":"L=7","i":1,"x":-0.03,"y":0.2},{"L":"L=7","i":2,"x":-0.05,"y":0.43},{"L":"L=7","i":3,"x":-0.06,"y":0.7},{"L":"L=7","i":4,"x":-0.08,"y":0.91},{"L":"L=7","i":5,"x":-0.07,"y":1.2},{"L":"L=7","i":6,"x":-0.1,"y":1.59},{"L":"L=7","i":7,"x":-0.09,"y":1.8},{"L":"L=7","i":8,"x":-0.08,"y":2.07},{"L":"L=7","i":9,"x":-0.11,"y":2.35},{"L":"L=7","i":10,"x":-0.1,"y":2.65},{"L":"L=7","i":11,"x":-0.12,"y":3.04},{"L":"L=7","i":12,"x":-0.13,"y":3.3},{"L":"L=7","i":13,"x":-0.15,"y":3.52},{"L":"L=7","i":14,"x":-0.14,"y":3.75},{"L":"L=7","i":15,"x":-0.17,"y":4.0},{"L":"L=7","i":16,"x":-0.14,"y":4.25},{"L":"L=7","i":17,"x":-0.15,"y":4.49},{"L":"L=7","i":18,"x":-0.16,"y":4.75},{"L":"L=7","i":19,"x":-0.17,"y":4.97},{"L":"L=7","i":20,"x":-0.13,"y":5.2},{"L":"L=7","i":21,"x":-0.12,"y":5.45},{"L":"L=7","i":22,"x":-0.16,"y":5.7},{"L":"L=7","i":23,"x":-0.15,"y":5.93},{"L":"L=7","i":24,"x":-0.18,"y":6.2},{"L":"L=7","i":25,"x":-0.17,"y":6.42},{"L":"L=7","i":26,"x":-0.25,"y":6.65},{"L":"L=7","i":27,"x":-0.29,"y":6.81},{"L":"L=7","i":28,"x":-0.31,"y":7.0},
{"L":"L=3","i":0,"x":0,"y":0},{"L":"L=3","i":1,"x":-0.02,"y":0.3},{"L":"L=3","i":2,"x":-0.02,"y":0.53},{"L":"L=3","i":3,"x":0.0,"y":0.8},{"L":"L=3","i":4,"x":0.0,"y":1.1},{"L":"L=3","i":5,"x":-0.04,"y":1.4},{"L":"L=3","i":6,"x":-0.04,"y":1.59},{"L":"L=3","i":7,"x":-0.1,"y":1.83},{"L":"L=3","i":8,"x":-0.03,"y":2.0},{"L":"L=3","i":9,"x":-0.03,"y":2.17},{"L":"L=3","i":10,"x":0.0,"y":2.46},{"L":"L=3","i":11,"x":-0.05,"y":2.65},{"L":"L=3","i":12,"x":0.0,"y":2.84},{"L":"L=3","i":13,"x":-0.08,"y":2.99},
{"L":"L=1","i":0,"x":0,"y":0},{"L":"L=1","i":1,"x":0.07,"y":0.24},{"L":"L=1","i":2,"x":0.09,"y":0.43},{"L":"L=1","i":3,"x":0.04,"y":0.62},{"L":"L=1","i":4,"x":0.0,"y":0.82},{"L":"L=1","i":5,"x":-0.03,"y":1.01},
{"L":"L=0","i":0,"x":0,"y":0},{"L":"L=0","i":1,"x":0.02,"y":0.08},{"L":"L=0","i":2,"x":0.04,"y":0.15}
],
"cpu":[
{"L":"L=7","n":0,"v":0.1},{"L":"L=7","n":1,"v":0.368},{"L":"L=7","n":2,"v":0.447},{"L":"L=7","n":3,"v":0.384},{"L":"L=7","n":4,"v":0.139},{"L":"L=7","n":5,"v":0},{"L":"L=7","n":6,"v":0},{"L":"L=7","n":7,"v":0},{"L":"L=7","n":8,"v":0.1},{"L":"L=7","n":9,"v":0.368},{"L":"L=7","n":10,"v":0.447},{"L":"L=7","n":11,"v":0.384},{"L":"L=7","n":12,"v":0.139},{"L":"L=7","n":13,"v":0},{"L":"L=7","n":14,"v":0},{"L":"L=7","n":15,"v":0},
{"L":"L=3","n":0,"v":0.1},{"L":"L=3","n":1,"v":0.217},{"L":"L=3","n":2,"v":0.245},{"L":"L=3","n":3,"v":0.22},{"L":"L=3","n":4,"v":0.11},{"L":"L=3","n":5,"v":0},{"L":"L=3","n":6,"v":0},{"L":"L=3","n":7,"v":0},{"L":"L=3","n":8,"v":0.1},{"L":"L=3","n":9,"v":0.217},{"L":"L=3","n":10,"v":0.245},{"L":"L=3","n":11,"v":0.22},{"L":"L=3","n":12,"v":0.11},{"L":"L=3","n":13,"v":0},{"L":"L=3","n":14,"v":0},{"L":"L=3","n":15,"v":0},
{"L":"L=1","n":0,"v":0.1},{"L":"L=1","n":1,"v":0.137},{"L":"L=1","n":2,"v":0.146},{"L":"L=1","n":3,"v":0.139},{"L":"L=1","n":4,"v":0.1},{"L":"L=1","n":5,"v":0.062},{"L":"L=1","n":6,"v":0.056},{"L":"L=1","n":7,"v":0.062},{"L":"L=1","n":8,"v":0.1},{"L":"L=1","n":9,"v":0.137},{"L":"L=1","n":10,"v":0.146},{"L":"L=1","n":11,"v":0.139},{"L":"L=1","n":12,"v":0.1},{"L":"L=1","n":13,"v":0.062},{"L":"L=1","n":14,"v":0.056},{"L":"L=1","n":15,"v":0.062},
{"L":"L=0","n":0,"v":0.1},{"L":"L=0","n":1,"v":0.103},{"L":"L=0","n":2,"v":0.104},{"L":"L=0","n":3,"v":0.103},{"L":"L=0","n":4,"v":0.1},{"L":"L=0","n":5,"v":0.097},{"L":"L=0","n":6,"v":0.096},{"L":"L=0","n":7,"v":0.097},{"L":"L=0","n":8,"v":0.1},{"L":"L=0","n":9,"v":0.103},{"L":"L=0","n":10,"v":0.104},{"L":"L=0","n":11,"v":0.103},{"L":"L=0","n":12,"v":0.1},{"L":"L=0","n":13,"v":0.097},{"L":"L=0","n":14,"v":0.096},{"L":"L=0","n":15,"v":0.097}
],
"blank":[{"v":0}]
},
"bounds":"flush",
"spacing":268.3,
"resolve":{"scale":{"color":"independent"},"legend":{"color":"independent"}},
"vconcat":[
{"hconcat":[
 {"width":224,"height":224,"title":{"text":"home vector length = 0.1m"},
  "encoding":{"x":{"field":"x","type":"quantitative","scale":{"domain":[-1,2.5],"nice":false,"zero":false},"axis":{"values":[-1,0,1,2],"title":"X / m","labelFontSize":14,"titleFontSize":14.5,"tickSize":5,"labelPadding":3,"titlePadding":2}},
   "y":{"field":"y","type":"quantitative","scale":{"domain":[-2.5,1],"nice":false,"zero":false},"axis":{"values":[-2,-1,0,1],"title":"Y / m","labelFontSize":14,"titleFontSize":14.5,"tickSize":5,"labelPadding":3,"titlePadding":-13,"titleY":97.5}}},
  "layer":[
   {"data":{"name":"A1"},"mark":{"type":"line","color":"black","strokeWidth":1},"encoding":{"detail":{"field":"t","type":"nominal"},"order":{"field":"i","type":"quantitative"}}},
   {"data":{"values":[{"x":1.37,"y":-0.5}]},"mark":{"type":"point","shape":"square","filled":true,"color":"black","size":81,"opacity":1}},
   {"data":{"values":[{"x":0,"y":0}]},"mark":{"type":"point","shape":"M0,-1L0.225,-0.309L0.951,-0.309L0.363,0.118L0.588,0.809L0,0.382L-0.588,0.809L-0.363,0.118L-0.951,-0.309L-0.225,-0.309Z","filled":true,"color":"red","size":210,"opacity":1}}
  ]},
 {"width":224,"height":224,"title":{"text":"home vector length = 1.0m"},
  "encoding":{"x":{"field":"x","type":"quantitative","scale":{"domain":[-1,2.5],"nice":false,"zero":false},"axis":{"values":[-1,0,1,2],"title":"X / m","labelFontSize":14,"titleFontSize":14.5,"tickSize":5,"labelPadding":3,"titlePadding":2}},
   "y":{"field":"y","type":"quantitative","scale":{"domain":[-2.5,1],"nice":false,"zero":false},"axis":{"values":[-2,-1,0,1],"title":null,"labelFontSize":14,"tickSize":5,"labelPadding":3}}},
  "layer":[
   {"data":{"name":"A2"},"mark":{"type":"line","color":"black","strokeWidth":1},"encoding":{"detail":{"field":"t","type":"nominal"},"order":{"field":"i","type":"quantitative"}}},
   {"data":{"values":[{"x":1.385,"y":-0.5}]},"mark":{"type":"point","shape":"square","filled":true,"color":"black","size":81,"opacity":1}},
   {"data":{"values":[{"x":0,"y":0}]},"mark":{"type":"point","shape":"M0,-1L0.225,-0.309L0.951,-0.309L0.363,0.118L0.588,0.809L0,0.382L-0.588,0.809L-0.363,0.118L-0.951,-0.309L-0.225,-0.309Z","filled":true,"color":"red","size":210,"opacity":1}}
  ]},
 {"width":224,"height":224,"title":{"text":"home vector length = 3.0m"},
  "encoding":{"x":{"field":"x","type":"quantitative","scale":{"domain":[-1,2.5],"nice":false,"zero":false},"axis":{"values":[-1,0,1,2],"title":"X / m","labelFontSize":14,"titleFontSize":14.5,"tickSize":5,"labelPadding":3,"titlePadding":2}},
   "y":{"field":"y","type":"quantitative","scale":{"domain":[-2.5,1],"nice":false,"zero":false},"axis":{"values":[-2,-1,0,1],"title":null,"labelFontSize":14,"tickSize":5,"labelPadding":3}}},
  "layer":[
   {"data":{"name":"A3"},"mark":{"type":"line","color":"black","strokeWidth":1},"encoding":{"detail":{"field":"t","type":"nominal"},"order":{"field":"i","type":"quantitative"}}},
   {"data":{"values":[{"x":1.37,"y":-0.49}]},"mark":{"type":"point","shape":"square","filled":true,"color":"black","size":81,"opacity":1}},
   {"data":{"values":[{"x":0,"y":0}]},"mark":{"type":"point","shape":"M0,-1L0.225,-0.309L0.951,-0.309L0.363,0.118L0.588,0.809L0,0.382L-0.588,0.809L-0.363,0.118L-0.951,-0.309L-0.225,-0.309Z","filled":true,"color":"red","size":210,"opacity":1}}
  ]},
 {"width":224,"height":224,"title":{"text":"home vector length = 7.0m"},
  "encoding":{"x":{"field":"x","type":"quantitative","scale":{"domain":[-1,2.5],"nice":false,"zero":false},"axis":{"values":[-1,0,1,2],"title":"X / m","labelFontSize":14,"titleFontSize":14.5,"tickSize":5,"labelPadding":3,"titlePadding":2}},
   "y":{"field":"y","type":"quantitative","scale":{"domain":[-2.5,1],"nice":false,"zero":false},"axis":{"values":[-2,-1,0,1],"title":null,"labelFontSize":14,"tickSize":5,"labelPadding":3}}},
  "layer":[
   {"data":{"name":"A4"},"mark":{"type":"line","color":"black","strokeWidth":1},"encoding":{"detail":{"field":"t","type":"nominal"},"order":{"field":"i","type":"quantitative"}}},
   {"data":{"values":[{"x":0,"y":0}]},"mark":{"type":"point","shape":"M0,-1L0.225,-0.309L0.951,-0.309L0.363,0.118L0.588,0.809L0,0.382L-0.588,0.809L-0.363,0.118L-0.951,-0.309L-0.225,-0.309Z","filled":true,"color":"red","size":210,"opacity":1}}
  ]}
],"spacing":44.7,"bounds":"flush"},
{"hconcat":[
 {"hconcat":[
  {"width":138,"height":293,
   "encoding":{"x":{"field":"x","type":"quantitative","scale":{"domain":[-2,2],"nice":false,"zero":false},"axis":{"values":[-2,-1,0,1,2],"title":"X / m","labelFontSize":10.5,"titleFontSize":12.5,"tickSize":4,"labelPadding":2,"titlePadding":1}},
    "y":{"field":"y","type":"quantitative","scale":{"domain":[-1,7.5],"nice":false,"zero":false},"axis":{"values":[-1,0,1,2,3,4,5,6,7],"title":"Y / m","labelFontSize":10.5,"titleFontSize":12.5,"tickSize":4,"labelPadding":2,"titlePadding":-12}}},
   "layer":[
    {"data":{"name":"btraj"},"transform":[{"filter":"datum.L == 'L=7'"}],"mark":{"type":"line","strokeWidth":2},"encoding":{"color":{"field":"L","type":"nominal","scale":{"domain":["L=0","L=1","L=3","L=7"],"range":["#bfbf00","#ee82ee","#800080","#4169e1"]},"legend":{"orient":"none","legendX":74,"legendY":39,"title":null,"symbolType":"stroke","symbolStrokeWidth":3,"symbolSize":280,"labelFontSize":10.5,"fillColor":"white","strokeColor":"#cccccc","padding":5,"cornerRadius":3,"rowPadding":0,"labelOffset":6,"values":["L=0","L=1","L=3","L=7"]}},"order":{"field":"i","type":"quantitative"}}},
    {"data":{"name":"btraj"},"transform":[{"filter":"datum.L == 'L=3'"}],"mark":{"type":"line","strokeWidth":2},"encoding":{"color":{"field":"L","type":"nominal","scale":{"domain":["L=0","L=1","L=3","L=7"],"range":["#bfbf00","#ee82ee","#800080","#4169e1"]},"legend":null},"order":{"field":"i","type":"quantitative"}}},
    {"data":{"name":"btraj"},"transform":[{"filter":"datum.L == 'L=1'"}],"mark":{"type":"line","strokeWidth":2},"encoding":{"color":{"field":"L","type":"nominal","scale":{"domain":["L=0","L=1","L=3","L=7"],"range":["#bfbf00","#ee82ee","#800080","#4169e1"]},"legend":null},"order":{"field":"i","type":"quantitative"}}},
    {"data":{"name":"btraj"},"transform":[{"filter":"datum.L == 'L=0'"}],"mark":{"type":"line","strokeWidth":2},"encoding":{"color":{"field":"L","type":"nominal","scale":{"domain":["L=0","L=1","L=3","L=7"],"range":["#bfbf00","#ee82ee","#800080","#4169e1"]},"legend":null},"order":{"field":"i","type":"quantitative"}}},
    {"data":{"values":[{"L":"L=7","i":0,"x":-0.3,"y":7},{"L":"L=7","i":1,"x":2.8,"y":6.35},{"L":"L=3","i":0,"x":-0.08,"y":3.0},{"L":"L=3","i":1,"x":2.8,"y":3.87},{"L":"L=1","i":0,"x":0.0,"y":1.01},{"L":"L=1","i":1,"x":2.8,"y":1.01},{"L":"L=0","i":0,"x":0.04,"y":0.15},{"L":"L=0","i":1,"x":2.8,"y":0.15}]},"mark":{"type":"line","strokeWidth":1,"strokeDash":[2,2]},"encoding":{"color":{"field":"L","type":"nominal","scale":{"domain":["L=0","L=1","L=3","L=7"],"range":["#bfbf00","#ee82ee","#800080","#4169e1"]},"legend":null},"order":{"field":"i","type":"quantitative"}}},
    {"data":{"values":[{"L":"L=7","x":2.87,"y":6.34},{"L":"L=3","x":2.87,"y":3.89},{"L":"L=1","x":2.87,"y":1.01},{"L":"L=0","x":2.87,"y":0.15}]},"mark":{"type":"point","shape":"triangle-right","filled":true,"size":30,"opacity":1},"encoding":{"color":{"field":"L","type":"nominal","scale":{"domain":["L=0","L=1","L=3","L=7"],"range":["#bfbf00","#ee82ee","#800080","#4169e1"]},"legend":null}}},
    {"data":{"values":[{"x":0,"y":0}]},"mark":{"type":"point","shape":"M0,-1L0.225,-0.309L0.951,-0.309L0.363,0.118L0.588,0.809L0,0.382L-0.588,0.809L-0.363,0.118L-0.951,-0.309L-0.225,-0.309Z","filled":true,"color":"red","size":65,"opacity":1}},
    {"data":{"values":[{"x":0,"y":-0.36,"s":"Nest"}]},"mark":{"type":"text","fontSize":13.5,"color":"red","baseline":"middle"},"encoding":{"text":{"field":"s","type":"nominal"}}},
    {"data":{"values":[{"x":-2.95,"y":7.4,"s":"B"},{"x":-2.89,"y":16.1,"s":"A"}]},"mark":{"type":"text","fontSize":18,"color":"black","baseline":"middle"},"encoding":{"text":{"field":"s","type":"nominal"}}},
    {"data":{"values":[{"x":-4.19,"y":4.62,"s":"932"}]},"mark":{"type":"text","fontSize":12.5,"color":"black","baseline":"middle"},"encoding":{"text":{"field":"s","type":"nominal"}}}
   ]},
  {"vconcat":[
   {"width":284,"height":2,"data":{"name":"blank"},"mark":{"type":"point","opacity":0},"view":{"stroke":null}},
   {"width":284,"height":138,"data":{"name":"cpu"},
    "encoding":{"x":{"field":"n","type":"quantitative","scale":{"domain":[-0.75,15.75],"nice":false,"zero":false},"axis":{"values":[0,1,2,3,4,5,6,7,8,9,10,11,12,13,14,15],"labels":false,"title":null,"tickSize":4}}},
    "layer":[
     {"transform":[{"filter":"datum.L == 'L=3'"}],"mark":{"type":"line","color":"#800080","strokeWidth":2.5},"encoding":{"y":{"field":"v","type":"quantitative","scale":{"domain":[0,0.5],"nice":false,"zero":false},"axis":{"values":[0,0.1,0.2,0.3,0.4,0.5],"format":".1f","title":null,"labelFontSize":10.5,"tickSize":4,"labelPadding":2}}}},
     {"transform":[{"filter":"datum.L == 'L=7'"}],"mark":{"type":"line","color":"#4169e1","strokeWidth":2.5},"encoding":{"y":{"field":"v","type":"quantitative","scale":{"domain":[0,0.5],"nice":false,"zero":false},"axis":null}}},
     {"mark":{"type":"point","opacity":0},"encoding":{"y":{"field":"v","type":"quantitative","scale":{"domain":[0,0.5],"nice":false,"zero":false},"axis":{"orient":"right","title":"CPU4 Activation","labels":false,"ticks":false,"domain":false,"grid":false,"titleFontSize":12,"titleAngle":270,"titleBaseline":"top","titlePadding":7}}}},
     {"data":{"values":[{"n":17.67,"v":0.49,"s":"C"}]},"mark":{"type":"text","fontSize":18,"color":"black","baseline":"middle"},"encoding":{"y":{"field":"v","type":"quantitative","scale":{"domain":[0,0.5],"nice":false,"zero":false},"axis":null},"text":{"field":"s","type":"nominal"}}}
    ],
    "resolve":{"axis":{"y":"independent"}}},
   {"width":284,"height":15,"data":{"name":"blank"},"mark":{"type":"point","opacity":0},"view":{"stroke":null}},
   {"width":284,"height":138,"data":{"name":"cpu"},
    "encoding":{"x":{"field":"n","type":"quantitative","scale":{"domain":[-0.75,15.75],"nice":false,"zero":false},"axis":{"values":[0,1,2,3,4,5,6,7,8,9,10,11,12,13,14,15],"labelExpr":"datum.value % 2 === 0 ? datum.label : ''","title":"Neuron index","labelFontSize":10.5,"titleFontSize":12.5,"tickSize":4,"labelPadding":2,"titlePadding":1}}},
    "layer":[
     {"transform":[{"filter":"datum.L == 'L=0'"}],"mark":{"type":"line","color":"#bfbf00","strokeWidth":2.5},"encoding":{"y":{"field":"v","type":"quantitative","scale":{"domain":[0,0.5],"nice":false,"zero":false},"axis":{"values":[0,0.1,0.2,0.3,0.4,0.5],"format":".1f","title":null,"labelFontSize":10.5,"tickSize":4,"labelPadding":2}}}},
     {"transform":[{"filter":"datum.L == 'L=1'"}],"mark":{"type":"line","color":"#ee82ee","strokeWidth":2.5},"encoding":{"y":{"field":"v","type":"quantitative","scale":{"domain":[0,0.5],"nice":false,"zero":false},"axis":null}}},
     {"mark":{"type":"point","opacity":0},"encoding":{"y":{"field":"v","type":"quantitative","scale":{"domain":[0,0.5],"nice":false,"zero":false},"axis":{"orient":"right","title":"CPU4 Activation","labels":false,"ticks":false,"domain":false,"grid":false,"titleFontSize":12,"titleAngle":270,"titleBaseline":"top","titlePadding":7}}}}
    ],
    "resolve":{"axis":{"y":"independent"}}}
  ],"spacing":0,"bounds":"flush"}
 ],"spacing":33,"bounds":"flush","resolve":{"scale":{"color":"independent"},"legend":{"color":"independent"}}},
 {"vconcat":[
  {"width":229,"height":74,"data":{"name":"blank"},"mark":{"type":"point","opacity":0},"view":{"stroke":null}},
  {"hconcat":[
   {"width":229,"height":145,"title":{"text":"RP distance = 6.18m"},
    "encoding":{"x":{"field":"x","type":"quantitative","scale":{"domain":[-1,10],"nice":false,"zero":false},"axis":{"values":[0,2,4,6,8,10],"title":"X / m","labelFontSize":14,"titleFontSize":14.5,"tickSize":5,"labelPadding":3,"titlePadding":2}},
     "y":{"field":"y","type":"quantitative","scale":{"domain":[-6,1],"nice":false,"zero":false},"axis":{"values":[-6,-5,-4,-3,-2,-1,0,1],"title":"Y / m","labelFontSize":14,"titleFontSize":14.5,"tickSize":5,"labelPadding":3,"titlePadding":3}}},
    "layer":[
     {"data":{"name":"C1"},"mark":{"type":"line","color":"black","strokeWidth":1},"encoding":{"detail":{"field":"t","type":"nominal"},"order":{"field":"i","type":"quantitative"}}},
     {"data":{"values":[{"x":4.11,"y":-1.49}]},"mark":{"type":"point","shape":"square","filled":true,"color":"black","size":55,"opacity":1}},
     {"data":{"values":[{"x":0,"y":0}]},"mark":{"type":"point","shape":"M0,-1L0.225,-0.309L0.951,-0.309L0.363,0.118L0.588,0.809L0,0.382L-0.588,0.809L-0.363,0.118L-0.951,-0.309L-0.225,-0.309Z","filled":true,"color":"red","size":130,"opacity":1}}
    ]},
   {"width":229,"height":145,"title":{"text":"RP distance = 10.3m"},
    "encoding":{"x":{"field":"x","type":"quantitative","scale":{"domain":[-1,10],"nice":false,"zero":false},"axis":{"values":[0,2,4,6,8,10],"title":"X / m","labelFontSize":14,"titleFontSize":14.5,"tickSize":5,"labelPadding":3,"titlePadding":2}},
     "y":{"field":"y","type":"quantitative","scale":{"domain":[-6,1],"nice":false,"zero":false},"axis":{"values":[-6,-5,-4,-3,-2,-1,0,1],"title":null,"labelFontSize":14,"tickSize":5,"labelPadding":3}}},
    "layer":[
     {"data":{"name":"C2"},"mark":{"type":"line","color":"black","strokeWidth":1},"encoding":{"detail":{"field":"t","type":"nominal"},"order":{"field":"i","type":"quantitative"}}},
     {"data":{"values":[{"x":6.89,"y":-2.48}]},"mark":{"type":"point","shape":"square","filled":true,"color":"black","size":70,"opacity":1}},
     {"data":{"values":[{"x":0,"y":0}]},"mark":{"type":"point","shape":"M0,-1L0.225,-0.309L0.951,-0.309L0.363,0.118L0.588,0.809L0,0.382L-0.588,0.809L-0.363,0.118L-0.951,-0.309L-0.225,-0.309Z","filled":true,"color":"red","size":130,"opacity":1}}
    ]}
  ],"spacing":45.6,"bounds":"flush"}
 ],"spacing":0,"bounds":"flush"}
],"spacing":530.2,"bounds":"flush","resolve":{"scale":{"color":"independent"},"legend":{"color":"independent"}}}
]
}
